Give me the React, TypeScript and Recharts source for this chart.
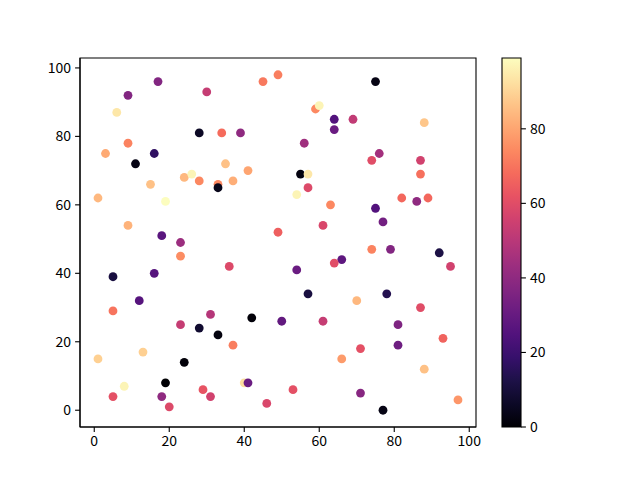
import React from "react";
import {
  ScatterChart,
  Scatter,
  XAxis,
  YAxis,
  Cell,
  ReferenceArea,
  ComposedChart,
} from "recharts";

const xs = [17, 9, 30, 45, 49, 6, 28, 34, 39, 9, 3, 16, 11, 35, 24, 26, 28, 33, 33, 37, 41, 15, 1, 19, 9, 18, 23, 49,
  75, 59, 60, 64, 69, 64, 88, 56, 76, 74, 87, 87, 55, 57, 57, 54, 63, 82, 86, 89, 75, 77, 61,
  23, 36, 5, 16, 12, 5, 31, 23, 28, 33, 42, 37, 1, 13, 24, 8, 19, 5, 18, 20, 29, 31, 40, 41, 46,
  74, 79, 92, 95, 66, 64, 54, 57, 78, 70, 87, 50, 61, 81, 93, 71, 81, 66, 88, 53, 71, 77, 97];
const ys = [96, 92, 93, 96, 98, 87, 81, 81, 81, 78, 75, 75, 72, 72, 68, 69, 67, 66, 65, 67, 70, 66, 62, 61, 54, 51, 49, 52,
  96, 88, 89, 85, 85, 82, 84, 78, 75, 73, 73, 69, 69, 69, 65, 63, 60, 62, 61, 62, 59, 55, 54,
  45, 42, 39, 40, 32, 29, 28, 25, 24, 22, 27, 19, 15, 17, 14, 7, 8, 4, 4, 1, 6, 4, 8, 8, 2,
  47, 47, 46, 42, 44, 43, 41, 34, 34, 32, 30, 26, 26, 25, 21, 18, 19, 15, 12, 6, 5, 0, 3];
const cs = [37, 37, 53, 71, 72, 94, 6, 68, 40, 73, 81, 17, 3, 86, 84, 97, 74, 74, 4, 82, 80, 86, 84, 99, 83, 27, 43, 65,
  3, 74, 97, 25, 52, 31, 87, 44, 45, 60, 56, 69, 2, 94, 59, 97, 74, 67, 40, 67, 25, 33, 58,
  75, 59, 11, 26, 26, 70, 49, 53, 8, 2, 1, 72, 89, 89, 1, 97, 0, 61, 40, 59, 62, 56, 92, 31, 58,
  73, 37, 12, 56, 28, 60, 31, 11, 14, 84, 60, 29, 53, 36, 66, 61, 32, 78, 86, 61, 38, 3, 77];

const xTicks = [0, 20, 40, 60, 80, 100];
const yTicks = [0, 20, 40, 60, 80, 100];
const cbTicks = [0, 20, 40, 60, 80];
const cMin = 0;
const cMax = 99;
const cbSpan = [0, 1];

const magma = [
  "#000004", "#0c0926", "#1d1147", "#36106b", "#51127c", "#6a1c81", "#832681", "#9c2e7f",
  "#b73779", "#d0416f", "#e75263", "#f56b5c", "#fc8961", "#fea772", "#fec488", "#fde2a3", "#fcfdbf",
];

function hexToRgb(h: string) {
  return [parseInt(h.slice(1, 3), 16), parseInt(h.slice(3, 5), 16), parseInt(h.slice(5, 7), 16)];
}
function magmaColor(v: number) {
  let t = (v - cMin) / (cMax - cMin);
  t = Math.max(0, Math.min(1, t));
  const p = t * (magma.length - 1);
  const i = Math.min(magma.length - 2, Math.floor(p));
  const f = p - i;
  const a = hexToRgb(magma[i]);
  const b = hexToRgb(magma[i + 1]);
  const c = a.map((av, k) => Math.round(av + (b[k] - av) * f));
  return `rgb(${c[0]},${c[1]},${c[2]})`;
}

const data = xs.map((x, i) => ({ x, y: ys[i], c: cs[i] }));
const cbData = cbSpan.map((x, i) => ({ x, v: i === 0 ? cMin : cMax }));

const FONT = "'Noto Sans CJK SC', 'DejaVu Sans', sans-serif";
const tickStyle = { fill: "#000", fontSize: 14, fontFamily: FONT };

const dot = (props: any) => {
  const { cx, cy, fill } = props;
  return <circle cx={cx} cy={cy} r={4.4} fill={fill} />;
};

export default function App() {
  return (
    <div style={{ position: "absolute", left: 0, top: 0, width: 640, height: 480, background: "#fff" }}>
      <svg width={0} height={0} style={{ position: "absolute" }}>
        <defs>
          <linearGradient id="magmaGrad" x1="0" y1="1" x2="0" y2="0">
            {magma.map((col, i) => (
              <stop key={i} offset={i / (magma.length - 1)} stopColor={col} />
            ))}
          </linearGradient>
        </defs>
      </svg>
      <div style={{ position: "absolute", left: 0, top: 0 }}>
        <ScatterChart width={640} height={480} margin={{ top: 58, right: 164, bottom: 23, left: 40 }}>
          <XAxis
            type="number"
            dataKey="x"
            domain={[-3.8, 101.8]}
            ticks={xTicks}
            allowDataOverflow
            height={30}
            tickSize={4.9}
            tickMargin={4}
            tick={tickStyle}
            axisLine={{ stroke: "#000", strokeWidth: 1.1 }}
            tickLine={{ stroke: "#000", strokeWidth: 1.1 }}
          />
          <YAxis
            type="number"
            dataKey="y"
            domain={[-4.9, 102.9]}
            ticks={yTicks}
            allowDataOverflow
            width={40}
            tickSize={4.9}
            tickMargin={4}
            tick={tickStyle}
            axisLine={{ stroke: "#000", strokeWidth: 1.1 }}
            tickLine={{ stroke: "#000", strokeWidth: 1.1 }}
          />
          <ReferenceArea
            x1={-3.8}
            x2={101.8}
            y1={-4.9}
            y2={102.9}
            fill="none"
            stroke="#000"
            strokeWidth={1.1}
            ifOverflow="extendDomain"
          />
          <Scatter data={data} isAnimationActive={false} shape={dot}>
            {data.map((d, i) => (
              <Cell key={i} fill={magmaColor(d.c)} />
            ))}
          </Scatter>
        </ScatterChart>
      </div>
      <div style={{ position: "absolute", left: 0, top: 0 }}>
        <ComposedChart
          width={640}
          height={480}
          data={cbData}
          margin={{ top: 58, right: 79, bottom: 53, left: 502 }}
        >
          <XAxis type="number" dataKey="x" domain={[0, 1]} allowDataOverflow hide />
          <YAxis
            type="number"
            orientation="right"
            dataKey="v"
            domain={[cMin, cMax]}
            ticks={cbTicks}
            allowDataOverflow
            width={40}
            tickSize={4.9}
            tickMargin={4}
            tick={{ ...tickStyle, textAnchor: "start" }}
            axisLine={false}
            tickLine={{ stroke: "#000", strokeWidth: 1.1 }}
          />
          <ReferenceArea
            x1={0}
            x2={1}
            y1={cMin}
            y2={cMax}
            fill="url(#magmaGrad)"
            fillOpacity={1}
            stroke="#000"
            strokeWidth={1.1}
            ifOverflow="visible"
          />
        </ComposedChart>
      </div>
    </div>
  );
}
